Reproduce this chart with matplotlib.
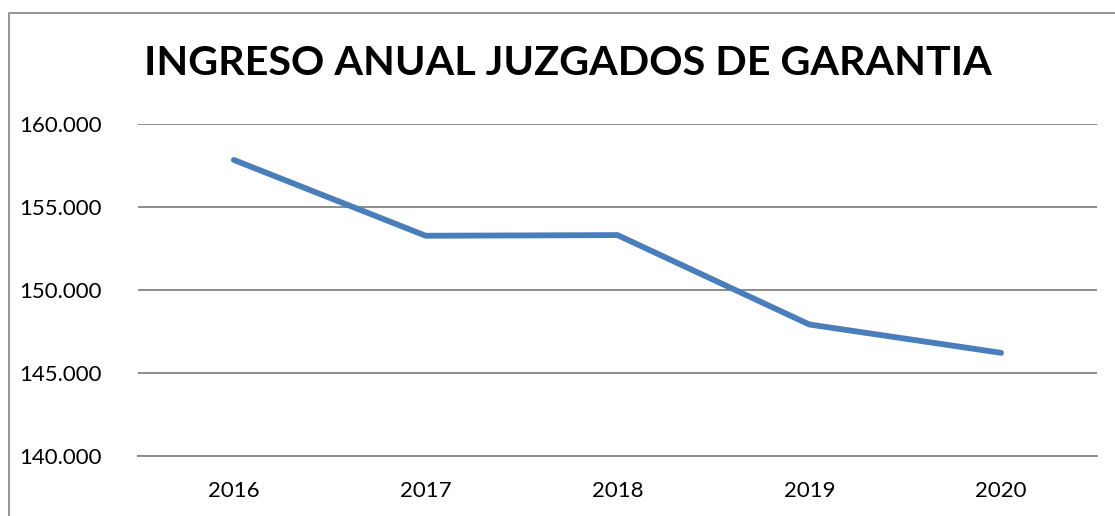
import matplotlib
matplotlib.use("Agg")
import matplotlib.pyplot as plt
from matplotlib.ticker import FuncFormatter, MultipleLocator
from matplotlib.lines import Line2D

years = ["2016", "2017", "2018", "2019", "2020"]
ingreso = [157850, 153280, 153320, 147930, 146220]
title = "INGRESO ANUAL JUZGADOS DE GARANTIA"

W, H = 1115, 516
fig = plt.figure(figsize=(W / 100, H / 100), dpi=100)
ax = fig.add_axes([138 / W, (H - 456) / H, (1097 - 138) / W, (456 - 124.3) / H])

x = range(len(years))
ax.plot(x, ingreso, color="#4A7EBB", linewidth=4.2, solid_capstyle="round", solid_joinstyle="round", zorder=3)
ax.set_xlim(-0.5, len(years) - 0.5)
ax.set_ylim(140000, 160000)
ax.yaxis.set_major_locator(MultipleLocator(5000))
ax.yaxis.set_major_formatter(FuncFormatter(lambda v, p: f"{int(v):,}".replace(",", ".")))
ax.set_xticks(list(x))
ax.set_xticklabels(years)
ax.grid(axis="y", color="#8C8C8C", linewidth=1.4)
ax.set_axisbelow(True)
for s in ["left", "right", "top"]:
    ax.spines[s].set_visible(False)
ax.spines["bottom"].set_color("#8C8C8C")
ax.spines["bottom"].set_linewidth(1.4)
ax.tick_params(axis="both", length=0, labelsize=16, colors="black")
ax.tick_params(axis="y", pad=26)
ax.tick_params(axis="x", pad=18)
for lab in ax.get_xticklabels() + ax.get_yticklabels():
    lab.set_fontfamily("Lato")

fig.text(568 / W, (H - 63.5) / H, title, ha="center", va="center",
         fontsize=29.7, fontweight="bold", fontfamily="Lato")

# outer chart border (left and top visible)
fig.add_artist(Line2D([8.5 / W, 8.5 / W, 1.0], [0.0, (H - 12.5) / H, (H - 12.5) / H],
                      transform=fig.transFigure, color="#8C8C8C", linewidth=1.3))

fig.savefig("out.png", dpi=100)
